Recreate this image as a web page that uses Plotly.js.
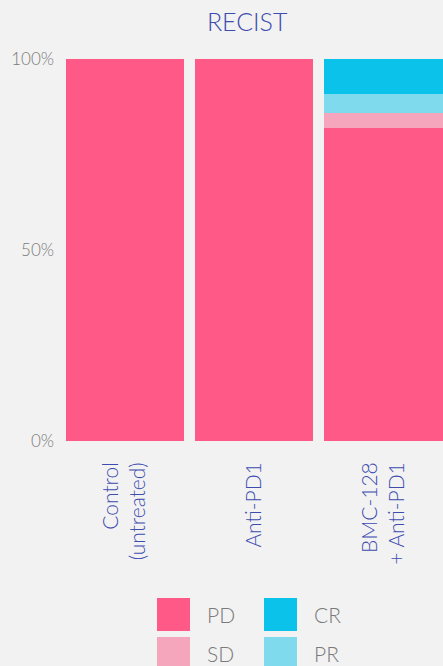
<!DOCTYPE html>
<html>
<head>
<meta charset="utf-8">
<script src="https://cdn.plot.ly/plotly-3.0.1.min.js"></script>
<style>html,body{margin:0;padding:0;background:#f2f2f2;}#chart{width:443px;height:666px;}</style>
</head>
<body>
<div id="chart"></div>
<script>
// ---- data ----
const categories = ["Control<br>(untreated)", "Anti-PD1", "BMC-128<br>+ Anti-PD1"];
const seriesNames = ["PD", "SD", "PR", "CR"];
const PD = [100, 100, 82];
const SD = [0, 0, 3.9];
const PR = [0, 0, 5.0];
const CR = [0, 0, 9.1];
const yTickVals = [0, 50, 100];
const yTickText = ["0%", "50%", "100%"];

// ---- styling ----
const colors = {PD: "#ff5a87", SD: "#f5a6bd", PR: "#7fdaee", CR: "#0bc3ea"};
const seriesValues = {PD: PD, SD: SD, PR: PR, CR: CR};
const FONT = "Lato, 'Noto Sans', sans-serif";
const BLUE = "#3c4caf";
const GRAY = "#7a7a7a";

const traces = seriesNames.map(n => ({
  type: "bar",
  name: n,
  x: categories,
  y: seriesValues[n],
  marker: {color: colors[n], line: {width: 0}},
  showlegend: false,
  hoverinfo: "x+y+name"
}));

// custom legend (2x2 grid: PD CR / SD PR), positioned in pixels
const W = 443, H = 666;
const margin = {l: 60, r: 0, t: 59, b: 225};
const pw = W - margin.l - margin.r, ph = H - margin.t - margin.b;
const px2x = p => (p - margin.l) / pw;
const px2y = p => (H - margin.b - p) / ph;
const legendOrder = ["PD", "CR", "SD", "PR"];
const shapes = [], annotations = [];
legendOrder.forEach((n, i) => {
  const col = i % 2, row = Math.floor(i / 2);
  const x0 = 157 + col * 107, y0 = 598 + row * 39;
  shapes.push({type: "rect", xref: "paper", yref: "paper",
    x0: px2x(x0), x1: px2x(x0 + 33), y0: px2y(y0), y1: px2y(y0 + 33),
    fillcolor: colors[n], line: {width: 0}});
  annotations.push({xref: "paper", yref: "paper", x: px2x(x0 + 48), y: px2y(y0 + 16.5),
    xanchor: "left", yanchor: "middle", text: n, showarrow: false,
    font: {family: FONT, size: 21, color: GRAY, weight: 300}});
});

const layout = {
  width: W, height: H,
  margin: margin,
  paper_bgcolor: "#f2f2f2",
  plot_bgcolor: "#f2f2f2",
  barmode: "stack",
  bargap: 0.0875,
  title: {text: "RECIST", xref: "container", x: 0.558, xanchor: "center",
          yref: "container", y: 1 - 22 / H, yanchor: "middle",
          font: {family: FONT, size: 25, color: BLUE, weight: 300}},
  xaxis: {
    range: [-0.5, 2.46], fixedrange: true,
    tickangle: -90, showgrid: false, zeroline: false, showline: false,
    ticks: "", ticklabelstandoff: 16,
    tickfont: {family: FONT, size: 21, color: BLUE, weight: 300}
  },
  yaxis: {
    range: [0, 100], fixedrange: true,
    tickvals: yTickVals, ticktext: yTickText,
    showgrid: false, zeroline: false, showline: false,
    ticks: "", ticklabelstandoff: 5,
    tickfont: {family: FONT, size: 17, color: GRAY, weight: 300}
  },
  shapes: shapes,
  annotations: annotations,
  showlegend: false
};

Plotly.newPlot("chart", traces, layout, {displayModeBar: false, staticPlot: true});
</script>
</body>
</html>
